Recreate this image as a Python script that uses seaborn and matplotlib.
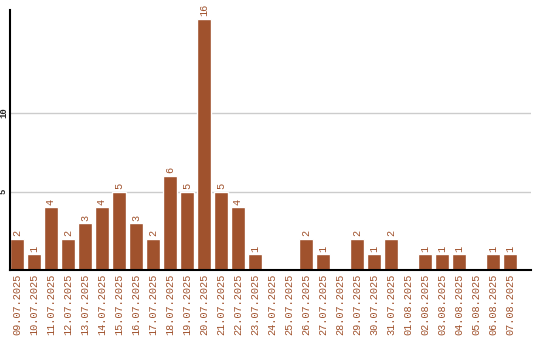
import matplotlib
matplotlib.use("Agg")
import matplotlib.pyplot as plt
import seaborn as sns
import pandas as pd

dates = ["09.07.2025", "10.07.2025", "11.07.2025", "12.07.2025", "13.07.2025",
         "14.07.2025", "15.07.2025", "16.07.2025", "17.07.2025", "18.07.2025",
         "19.07.2025", "20.07.2025", "21.07.2025", "22.07.2025", "23.07.2025",
         "24.07.2025", "25.07.2025", "26.07.2025", "27.07.2025", "28.07.2025",
         "29.07.2025", "30.07.2025", "31.07.2025", "01.08.2025", "02.08.2025",
         "03.08.2025", "04.08.2025", "05.08.2025", "06.08.2025", "07.08.2025"]
counts = [2, 1, 4, 2, 3, 4, 5, 3, 2, 6, 5, 16, 5, 4, 1, 0, 0, 2, 1, 0,
          2, 1, 2, 0, 1, 1, 1, 0, 1, 1]
yticks = [5, 10]

color = "#A0522D"
df = pd.DataFrame({"date": dates, "count": counts})

sns.set_style("white")
plt.rcParams['font.family'] = ['Liberation Mono', 'DejaVu Sans Mono']

fig = plt.figure(figsize=(5.4, 3.4), dpi=100)
ax = fig.add_axes([10/540, 70/340, 521/540, 260/340])

sns.barplot(data=df, x="date", y="count", color=color, saturation=1,
            width=14/17, ax=ax, zorder=3)

ax.set_xlim(-0.41, 30.24)
ax.set_ylim(0, 260/15.7)
ax.set_yticks(yticks)
ax.set_yticklabels([str(t) for t in yticks], rotation=90, fontsize=6.5,
                   va="center", fontweight="bold")
ax.tick_params(axis="y", length=0, pad=1.5)
ax.tick_params(axis="x", length=0, pad=3)
ax.grid(axis="y", color="#cccccc", linewidth=1, zorder=0)
ax.set_xticks(range(len(dates)))
ax.set_xticklabels(dates, rotation=90, fontsize=7.4, color=color)
ax.set_xlabel("")
ax.set_ylabel("")

for s in ["top", "right"]:
    ax.spines[s].set_visible(False)
for s in ["left", "bottom"]:
    ax.spines[s].set_color("black")
    ax.spines[s].set_linewidth(1.5)
    ax.spines[s].set_zorder(5)

for i, v in enumerate(counts):
    if v > 0:
        ax.text(i, v + 0.15, str(v), rotation=90, ha="center", va="bottom",
                fontsize=7.4, color=color)

fig.savefig("out.png", dpi=100)
